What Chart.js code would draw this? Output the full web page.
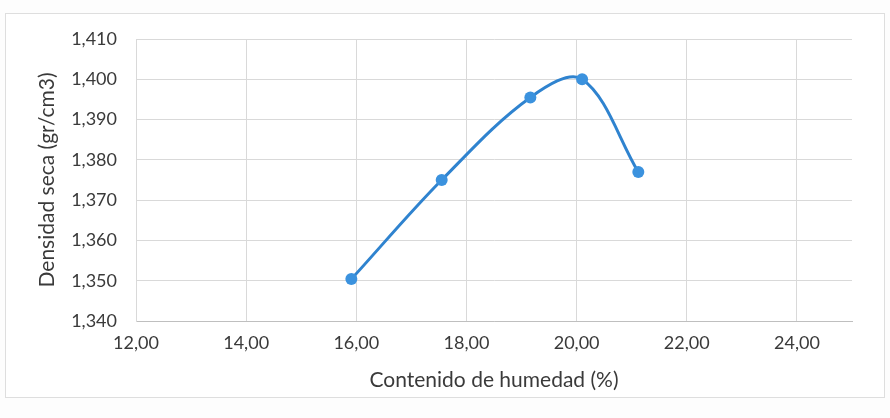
<!DOCTYPE html>
<html>
<head>
<meta charset="utf-8">
<script src="https://cdn.jsdelivr.net/npm/chart.js@4"></script>
<style>
  html, body { margin: 0; padding: 0; background: #fdfdfd; }
  #wrap { width: 890px; height: 418px; }
</style>
</head>
<body>
<div id="wrap"><canvas id="chart" width="890" height="418"></canvas></div>
<script>
// Proctor curve data - moisture content vs dry density
const moisture = [15.91, 17.55, 19.16, 20.10, 21.12];
const dryDensity = [1.3504, 1.3750, 1.3955, 1.4000, 1.3770];
const xTicks = [12, 14, 16, 18, 20, 22, 24];

const xTitle = 'Contenido de humedad (%)';
const yTitle = 'Densidad seca (gr/cm3)';

const textColor = '#3a3a3a';
const gridColor = '#d9d9d9';

// white card with light frame, like the Excel chart area
const framePlugin = {
    id: 'frame',
    beforeDraw(chart) {
        const ctx = chart.ctx;
        ctx.save();
        ctx.fillStyle = '#ffffff';
        ctx.fillRect(5, 13, 880, 384);
        ctx.strokeStyle = '#dedede';
        ctx.lineWidth = 1;
        ctx.strokeRect(5.5, 13.5, 879, 384);
        ctx.restore();
    }
};

const points = moisture.map((x, i) => ({ x: x, y: dryDensity[i] }));

new Chart(document.getElementById('chart'), {
    type: 'scatter',
    data: {
        datasets: [{
            data: points,
            showLine: true,
            tension: 0.35,
            borderColor: '#2f83cf',
            borderWidth: 3,
            backgroundColor: '#3b92de',
            pointRadius: 6,
            pointBorderWidth: 0,
            pointHoverRadius: 6
        }]
    },
    options: {
        responsive: false,
        animation: false,
        layout: { padding: { top: 39, right: 38, left: 0, bottom: 0 } },
        plugins: {
            legend: { display: false },
            tooltip: { enabled: false }
        },
        scales: {
            x: {
                type: 'linear',
                min: 12,
                max: 25,
                afterBuildTicks(scale) {
                    scale.ticks = xTicks.map(v => ({ value: v }));
                },
                afterFit(scale) { scale.height = 97; },
                grid: { color: gridColor, drawTicks: false },
                border: { color: '#bfbfbf' },
                ticks: {
                    padding: 11,
                    color: textColor,
                    font: { family: 'Lato', size: 18 },
                    callback: v => v.toFixed(2).replace('.', ',')
                },
                title: {
                    display: true,
                    text: xTitle,
                    color: textColor,
                    font: { family: 'Lato', size: 21 },
                    padding: { bottom: 25 }
                }
            },
            y: {
                min: 1.34,
                max: 1.41,
                afterFit(scale) { scale.width = 136; },
                grid: { color: gridColor, drawTicks: false },
                border: { color: gridColor },
                ticks: {
                    stepSize: 0.01,
                    padding: 19,
                    color: textColor,
                    font: { family: 'Lato', size: 18 },
                    callback: v => v.toFixed(3).replace('.', ',')
                },
                title: {
                    display: true,
                    text: yTitle,
                    color: textColor,
                    font: { family: 'Lato', size: 21 },
                    padding: { top: 35 }
                }
            }
        }
    },
    plugins: [framePlugin]
});
</script>
</body>
</html>
